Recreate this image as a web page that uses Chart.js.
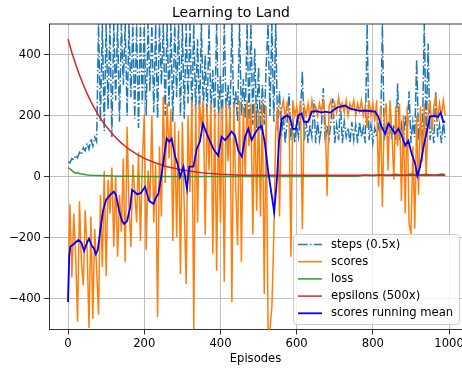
<!DOCTYPE html>
<html><head><meta charset="utf-8">
<script src="https://cdn.jsdelivr.net/npm/chart.js@4.4.0/dist/chart.umd.min.js"></script>
<style>html,body{margin:0;padding:0;background:#fff;overflow:hidden}canvas{display:block}</style>
</head><body>
<canvas id="c" width="462" height="371"></canvas>
<script>
const chartTitle = 'Learning to Land';
const xAxisTitle = 'Episodes';
const xTicks = [0, 200, 400, 600, 800, 1000];
const yTicks = [-400, -200, 0, 200, 400];
const seriesLabels = ['steps (0.5x)', 'scores', 'loss', 'epsilons (500x)', 'scores running mean'];

// scores and steps sampled every 5 episodes (0..990)
const scoreValues = [
 -410, -90, -330, -120, -260, -475, -80, -280, -356, -110,
 -240, -495, -130, -465, -170, -300, -452, -60, -295, 20,
 -325, -10, -120, 30, -229, 0, -262, -60, -180, 60,
 -279, 164, -100, -230, 40, -50, -150, 80, -210, 50,
 203, -240, 20, -80, 200, -150, 40, -459, 100, -130,
 262, -20, 240, 60, 220, -210, 180, -197, 150, -318,
 180, -100, -351, 200, -50, 250, -500, 230, -150, 240,
 160, 250, -190, 230, 20, 240, -252, 220, -308, 210,
 -150, 230, -344, 240, 50, 230, -410, 240, -30, -224,
 250, -279, 230, 0, 250, 100, 240, -190, 240, -111,
 220, -130, 250, -384, 230, -500, -500, -426, -197, 150,
 230, -130, 220, 250, 190, 240, 210, -262, 250, 200,
 230, 180, 250, -171, 230, 200, 240, 190, 250, 210,
 230, 200, 240, 210, 250, 190, -62, 230, 250, 200,
 240, 210, 260, 220, 240, 210, 250, 200, 240, 220,
 250, 200, 240, 215, 250, 200, 230, 160, 250, 200,
 240, 180, 250, -33, 230, -98, 200, 240, 20, 250,
 150, -10, 230, 100, 240, -79, 200, -120, 230, -154,
 -187, 100, -170, 200, -60, 230, 50, 240, 0, 200,
 250, 150, 230, 260, 180, 240, 200, 250, 200
];
const stepValues = [
 50, 45, 60, 55, 70, 62, 80, 72, 95, 85,
 110, 90, 125, 100, 130, 115, 500, 180, 500, 150,
 500, 220, 500, 130, 500, 250, 500, 180, 500, 300,
 500, 200, 500, 260, 500, 190, 500, 160, 500, 240,
 500, 200, 500, 280, 500, 210, 500, 190, 500, 300,
 500, 200, 500, 230, 500, 180, 500, 260, 500, 200,
 500, 190, 500, 240, 500, 200, 500, 210, 450, 190,
 500, 220, 400, 190, 500, 210, 350, 190, 500, 200,
 330, 185, 500, 200, 300, 190, 500, 210, 280, 180,
 500, 200, 320, 190, 500, 180, 500, 170, 420, 160,
 360, 150, 300, 170, 360, 500, 200, 500, 180, 500,
 150, 280, 130, 200, 110, 180, 272, 120, 190, 110,
 170, 130, 200, 345, 120, 180, 110, 170, 130, 250,
 110, 180, 120, 160, 290, 110, 170, 125, 180, 256,
 110, 170, 120, 240, 110, 180, 130, 160, 110, 180,
 120, 170, 110, 180, 130, 160, 110, 500, 120, 170,
 110, 160, 130, 180, 110, 500, 120, 170, 110, 180,
 120, 170, 110, 305, 120, 170, 110, 200, 130, 280,
 110, 180, 130, 384, 120, 170, 140, 500, 130, 436,
 120, 170, 110, 280, 130, 170, 110, 180, 120
];
const lossEpisodes = [0,5,10,15,20,25,30,40,50,60,80,100,130,160,200,300,400,500,600,700,760,780,800,820,840,860,880,900,920,940,960,980,990];
const lossValues   = [30,26,20,15,12,14,10,8,6,5,4,3,2,1.5,1,0.5,0.5,1,1,1.5,2,6,3,7,4,8,5,9,6,8,5,9,7];
const epsEpisodes = [0,10,20,30,40,50,60,70,80,90,100,120,140,160,180,200,230,260,300,350,400,460,990];
const epsValues   = [450,407,368,333,301,272,246,223,201,182,165,135,110,90,74,60,45,33,22,13.4,8,5,5];
const meanEpisodes = [0,3,6,15,27,35,42,50,55,62,68,73,78,84,92,100,110,120,126,134,142,147,155,163,168,175,181,191,202,213,224,230,237,246,254,259,266,272,281,288,294,303,312,318,329,338,346,354,364,372,381,394,403,412,420,429,438,447,456,465,473,482,490,495,500,508,516,525,534,541,548,554,561,574,582,590,598,604,613,619,630,640,653,666,675,688,705,727,740,766,784,806,814,823,832,841,850,858,867,876,885,893,902,911,917,924,933,942,950,963,971,978,985,990];
const meanValues = [-410,-260,-229,-220,-207,-215,-243,-215,-203,-225,-235,-253,-240,-180,-110,-75,-60,-49,-60,-111,-145,-154,-145,-100,-43,-50,-57,-54,-33,-79,-89,-70,-56,10,85,125,115,125,66,40,0,33,-39,33,33,92,115,174,141,118,92,69,131,120,131,148,135,85,66,131,157,120,140,151,160,167,115,20,-56,-115,-13,118,190,200,195,157,157,200,207,180,180,213,215,210,213,210,226,233,223,216,216,213,197,164,141,174,157,141,157,134,102,118,75,43,3,33,98,151,197,200,195,210,180,180];

const pts = (xs, ys) => ys.map((y, i) => ({x: xs[i], y}));
const sampleEpisodes = scoreValues.map((_, i) => i * 5);
const stepEpisodes = stepValues.map((_, i) => i * 5);

const FONT = "'DejaVu Sans', sans-serif";
Chart.defaults.font.family = FONT;
Chart.defaults.color = '#000';
const TICK_PX = 11.6;

const fmt = v => String(v).replace('-', '\u2212');

const mplPlugin = {
  id: 'mpl',
  afterDraw(chart) {
    const c = chart.ctx, a = chart.chartArea;
    c.save();
    c.strokeStyle = '#000'; c.lineWidth = 0.8;
    c.beginPath(); c.moveTo(a.left, a.top); c.lineTo(chart.width, a.top); c.stroke();
    // legend (lower right, matplotlib style)
    const x0 = 293.5, y0 = 234.5, w = 166, h = 90, r = 3;
    c.beginPath();
    c.moveTo(x0 + r, y0); c.lineTo(x0 + w - r, y0); c.arcTo(x0 + w, y0, x0 + w, y0 + r, r);
    c.lineTo(x0 + w, y0 + h - r); c.arcTo(x0 + w, y0 + h, x0 + w - r, y0 + h, r);
    c.lineTo(x0 + r, y0 + h); c.arcTo(x0, y0 + h, x0, y0 + h - r, r);
    c.lineTo(x0, y0 + r); c.arcTo(x0, y0, x0 + r, y0, r); c.closePath();
    c.fillStyle = 'rgba(255,255,255,0.8)'; c.fill();
    c.strokeStyle = '#cccccc'; c.lineWidth = 1; c.stroke();
    chart.data.datasets.forEach((ds, i) => {
      const y = 244.5 + i * 17.2;
      c.beginPath(); c.setLineDash(ds.borderDash || []);
      c.strokeStyle = ds.borderColor; c.lineWidth = ds.borderWidth;
      c.moveTo(298, y); c.lineTo(322, y); c.stroke();
      c.setLineDash([]);
      c.fillStyle = '#000'; c.font = TICK_PX + "px 'DejaVu Sans'"; c.textBaseline = 'middle'; c.textAlign = 'left';
      c.fillText(ds.label, 331, y);
    });
    c.restore();
  }
};

const common = {pointRadius: 0, tension: 0, fill: false, borderWidth: 1.5};
new Chart(document.getElementById('c'), {
  type: 'line',
  data: {
    datasets: [
      {...common, label: seriesLabels[0], data: pts(stepEpisodes, stepValues), borderColor: '#1f77b4', borderDash: [9.6, 2.4, 1.5, 2.4], order: 5},
      {...common, label: seriesLabels[1], data: pts(sampleEpisodes, scoreValues), borderColor: '#ff7f0e', order: 4},
      {...common, label: seriesLabels[2], data: pts(lossEpisodes, lossValues), borderColor: '#2ca02c', order: 3},
      {...common, label: seriesLabels[3], data: pts(epsEpisodes, epsValues), borderColor: '#d62728', order: 2},
      {...common, label: seriesLabels[4], data: pts(meanEpisodes, meanValues), borderColor: '#0000ff', borderWidth: 1.8, order: 1}
    ]
  },
  options: {
    responsive: false, animation: false, devicePixelRatio: 1,
    layout: {padding: 0},
    plugins: {
      legend: {display: false}, tooltip: {enabled: false},
      title: {display: true, text: chartTitle, color: '#000', font: {size: 14, weight: 'normal', lineHeight: 1.2}, padding: {top: 4.5, bottom: 2.7}}
    },
    scales: {
      x: {
        type: 'linear', min: -50, max: 1034,
        afterBuildTicks: s => { s.ticks = xTicks.map(v => ({value: v})); },
        afterFit: s => { s.height = 41.5; s.paddingRight = 0; s.paddingLeft = 0; },
        ticks: {font: {size: TICK_PX}, padding: 3, color: '#000', callback: fmt, maxRotation: 0, autoSkip: false},
        grid: {color: '#b0b0b0', lineWidth: 0.8, tickColor: '#000', tickLength: 5},
        border: {color: '#000', width: 0.8},
        title: {display: true, text: xAxisTitle, font: {size: TICK_PX, lineHeight: 1.2}, color: '#000', padding: {top: 0, bottom: 5}}
      },
      y: {
        type: 'linear', min: -500, max: 500,
        afterBuildTicks: s => { s.ticks = yTicks.map(v => ({value: v})); },
        afterFit: s => { s.width = 49; s.paddingTop = 0; s.paddingBottom = 0; },
        ticks: {font: {size: TICK_PX}, padding: 3, color: '#000', callback: fmt, autoSkip: false},
        grid: {color: '#b0b0b0', lineWidth: 0.8, tickColor: '#000', tickLength: 5},
        border: {color: '#000', width: 0.8}
      }
    }
  },
  plugins: [mplPlugin]
});
</script></body></html>
